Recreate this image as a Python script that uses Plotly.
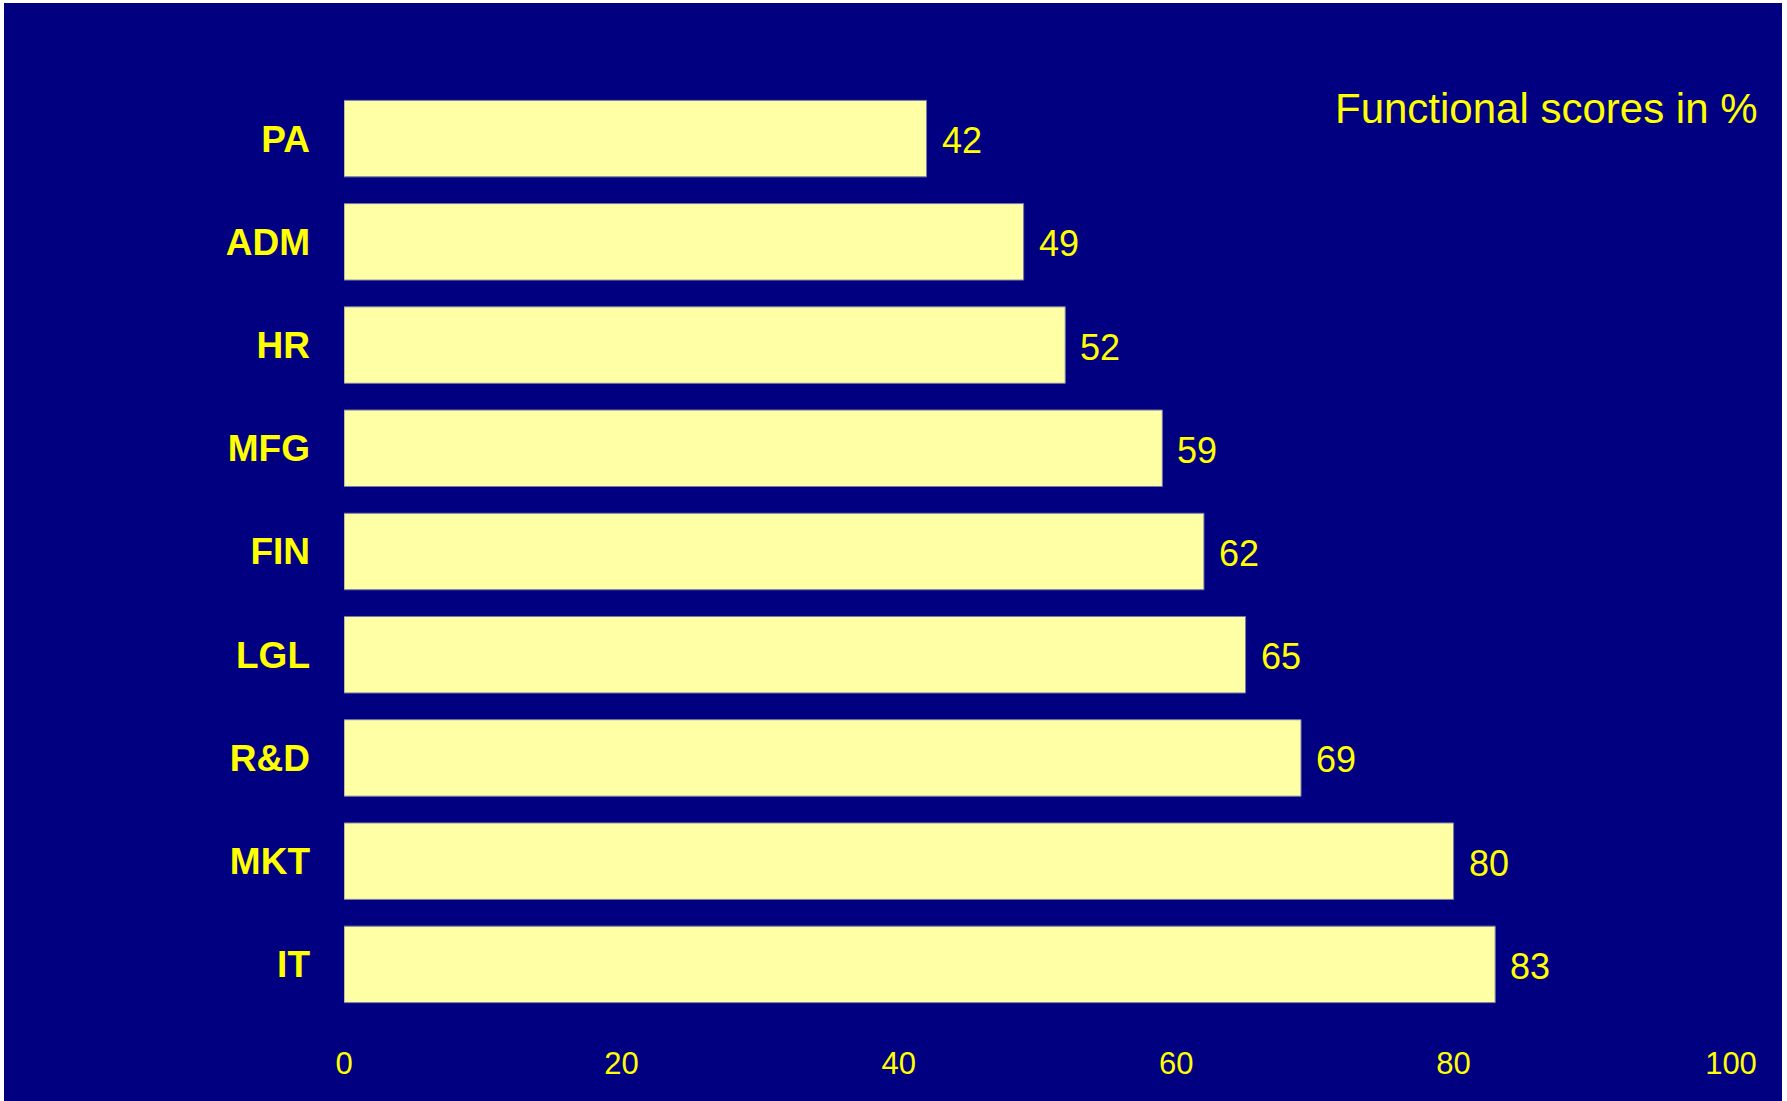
import plotly.graph_objects as go

categories = ["PA", "ADM", "HR", "MFG", "FIN", "LGL", "R&D", "MKT", "IT"]
scores = [42, 49, 52, 59, 62, 65, 69, 80, 83]
x_ticks = [0, 20, 40, 60, 80, 100]
title_text = "Functional scores in %"

NAVY = "#000080"
YELLOW = "#FFFF00"
BAR = "#FFFFA6"
FONT = "Arial, Liberation Sans, sans-serif"

W, H = 1787, 1101
ml, mr, mt, mb = 344, 56, 87, 85
pw, ph = W - ml - mr, H - mt - mb

def px_x(p):
    return (p - ml) / pw

def px_y(p):
    return (H - mb - p) / ph

fig = go.Figure()
fig.add_trace(go.Bar(
    x=scores, y=categories, orientation="h",
    marker=dict(color=BAR, line=dict(color="#7878a8", width=1)),
    hoverinfo="skip",
))

annotations = []
for c, v in zip(categories, scores):
    annotations.append(dict(
        x=v, y=c, xref="x", yref="y", text=str(v), showarrow=False,
        xanchor="left", yanchor="middle", xshift=13, yshift=-2,
        font=dict(family=FONT, size=36, color=YELLOW),
    ))
annotations.append(dict(
    x=px_x(1760), y=px_y(108), xref="paper", yref="paper", text=title_text,
    showarrow=False, xanchor="right", yanchor="middle",
    font=dict(family=FONT, size=42, color=YELLOW),
))

fig.update_layout(
    width=W, height=H,
    margin=dict(l=ml, r=mr, t=mt, b=mb, pad=0),
    paper_bgcolor="white",
    plot_bgcolor=NAVY,
    bargap=0.259,
    showlegend=False,
    annotations=annotations,
    shapes=[dict(
        type="rect", xref="paper", yref="paper", layer="below",
        x0=px_x(4), x1=px_x(1782), y0=px_y(1101), y1=px_y(3),
        fillcolor=NAVY, line=dict(width=0),
    )],
    xaxis=dict(
        range=[0, 100], tickvals=x_ticks, ticktext=[str(t) for t in x_ticks],
        showgrid=False, zeroline=False, showline=False, ticks="",
        tickfont=dict(family=FONT, size=31, color=YELLOW),
        ticklabelstandoff=26,
    ),
    yaxis=dict(
        categoryorder="array", categoryarray=categories,
        range=[8.5, -0.5],
        showgrid=False, zeroline=False, showline=False, ticks="",
        tickfont=dict(family=FONT, size=37, color=YELLOW),
        ticklabelstandoff=33,
    ),
)
# bold category labels
fig.update_yaxes(ticktext=[f"<b>{c}</b>" for c in categories], tickvals=categories)

fig.write_html("out.html")
